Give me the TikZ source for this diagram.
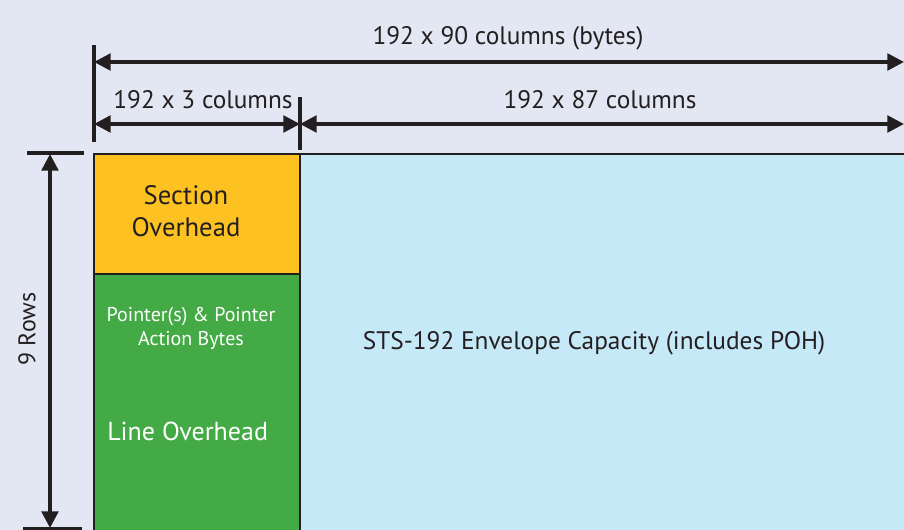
\documentclass[tikz,border=0pt]{standalone}
\usepackage{fontspec}
\setmainfont{PT Sans}
\usepackage{tikz}
\usetikzlibrary{arrows.meta}
\definecolor{bgcol}{RGB}{227,231,243}
\definecolor{sohcol}{RGB}{253,194,33}
\definecolor{lohcol}{RGB}{67,170,69}
\definecolor{specol}{RGB}{198,233,248}
\definecolor{inkcol}{RGB}{35,31,32}
\tikzset{
  dimline/.style={draw=inkcol, line width=2.6pt, {Triangle[length=12.5pt,width=12.5pt]}-{Triangle[length=12.5pt,width=12.5pt]}},
  tickline/.style={draw=inkcol, line width=2.4pt},
  edgeline/.style={draw=inkcol, line width=1.6pt},
  dimlabel/.style={inner sep=0.75pt, font=\fontsize{19}{22}\selectfont, text=inkcol},
}
\begin{document}
\begin{tikzpicture}[x=0.75pt,y=0.75pt,yscale=-1,xscale=1]
        \useasboundingbox (0,0) rectangle (904,530);
        \fill [bgcol] (0,0) rectangle (904,530);

        % corners of the frame
        \coordinate (frameTL) at (94,154);
        \coordinate (frameML) at (94,274);
        \coordinate (frameBL) at (94,535);
        \coordinate (splitT) at (300,154);
        \coordinate (splitM) at (300,274);
        \coordinate (splitB) at (300,535);
        \coordinate (frameTR) at (910,154);
        \coordinate (frameBR) at (910,535);

        % blocks
        \fill [sohcol] (frameTL) rectangle (splitM);
        \fill [lohcol] (frameML) rectangle (splitB);
        \fill [specol] (splitT) rectangle (frameBR);
        \draw [edgeline] (frameBL) -- (frameTL) -- (frameTR) ;
        \draw [edgeline] (splitT) -- (splitB) ;
        \draw [edgeline] (frameML) -- (splitM) ;

        % column dimensions
        \coordinate (tickAtop) at (94,45);
        \coordinate (tickAbot) at (94,142);
        \coordinate (tickBtop) at (300,97);
        \coordinate (tickBbot) at (300,150);
        \coordinate (allL) at (94,62);
        \coordinate (allR) at (904,62);
        \coordinate (tohL) at (94,124);
        \coordinate (tohR) at (300,124);
        \coordinate (speR) at (904,124);
        \draw [tickline] (tickAtop) -- (tickAbot) ;
        \draw [tickline] (tickBtop) -- (tickBbot) ;
        \draw [dimline] (allL) -- (allR) ;
        \draw [dimline] (tohL) -- (tohR) ;
        \draw [dimline] (tohR) -- (speR) ;

        % row dimension
        \coordinate (rowTL) at (27,153);
        \coordinate (rowTR) at (84,153);
        \coordinate (rowBL) at (23,529);
        \coordinate (rowBR) at (82,529);
        \coordinate (rowT) at (50,154);
        \coordinate (rowB) at (50,528);
        \draw [tickline] (rowTL) -- (rowTR) ;
        \draw [tickline] (rowBL) -- (rowBR) ;
        \draw [dimline] (rowT) -- (rowB) ;

        % Text Node
        \node [dimlabel] (allcols) at (508,38) {192 x 90 columns (bytes)};
        \node [dimlabel] (tohcols) at (203,100) {192 x 3 columns};
        \node [dimlabel] (specols) at (600,100) {192 x 87 columns};
        \node [dimlabel, rotate=90, font=\fontsize{18}{21}\selectfont] (rows) at (27,329) {9 Rows};
        % Text Node
        \node [dimlabel, align=center, font=\fontsize{20}{24}\selectfont] (soh) at (186,211) {Section\\Overhead};
        \node [inner sep=0.75pt, align=center, text=white, font=\fontsize{15}{18}\selectfont] (ptr) at (191,328) {Pointer(s) \& Pointer\\Action Bytes};
        \node [inner sep=0.75pt, anchor=west, text=white, font=\fontsize{19.5}{23}\selectfont] (loh) at (106,431) {Line Overhead};
        \node [dimlabel, font=\fontsize{19}{23}\selectfont] (spe) at (594,343) {STS-192 Envelope Capacity (includes POH)};
\end{tikzpicture}
\end{document}
